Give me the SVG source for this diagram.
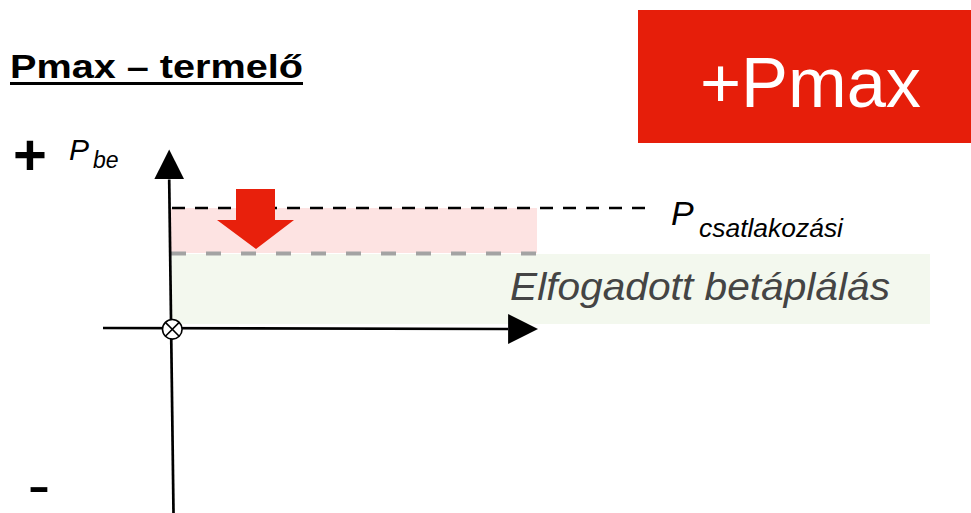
<svg xmlns="http://www.w3.org/2000/svg" width="971" height="513" viewBox="0 0 971 513">
<defs>
<style>
.t{font-family:"Liberation Sans",Arial,sans-serif}
.axis{stroke:#000;stroke-width:2.7;fill:none}
</style>
<marker id="ah" markerUnits="userSpaceOnUse" markerWidth="30" markerHeight="30" viewBox="0 0 30 30" refX="0" refY="15" orient="auto">
<path d="M0,0 L30,15 L0,30 Z" fill="#000"/>
</marker>
</defs>
<rect width="971" height="513" fill="#fff"/>
<g id="badge">
<rect x="638" y="10" width="333" height="133" fill="#e61e0a"/>
<text class="t" x="700" y="107" font-size="70" fill="#fff" textLength="221" lengthAdjust="spacingAndGlyphs">+Pmax</text>
</g>
<g id="title">
<text class="t" x="10" y="78" font-size="33" font-weight="bold" fill="#000" textLength="293" lengthAdjust="spacingAndGlyphs">Pmax – termelő</text>
<rect x="10" y="82" width="293" height="3" fill="#000"/>
</g>
<g id="zones">
<rect x="172" y="254" width="758" height="70" fill="#f3f8ee"/>
<rect x="171" y="208" width="366" height="45" fill="#fde3e2"/>
<line x1="171" y1="253.5" x2="537" y2="253.5" stroke="#a3a3a3" stroke-width="4" stroke-dasharray="15,20"/>
</g>
<g id="connectors">
<line class="axis" x1="103" y1="328" x2="508" y2="329"/>
<line x1="508" y1="329" x2="508.1" y2="329" stroke="#000" marker-end="url(#ah)"/>
<line class="axis" x1="173.5" y1="513" x2="169.2" y2="179.5"/>
<line x1="169.2" y1="179.5" x2="169.2" y2="179.4" stroke="#000" marker-end="url(#ah)"/>
<line x1="172" y1="208" x2="655" y2="208" stroke="#000" stroke-width="2.5" stroke-dasharray="13,10"/>
</g>
<g id="origin">
<circle cx="172.3" cy="329.3" r="9.8" fill="#fff" stroke="#000" stroke-width="1.6"/>
<line x1="165.4" y1="322.4" x2="179.2" y2="336.2" stroke="#000" stroke-width="1.6"/>
<line x1="179.2" y1="322.4" x2="165.4" y2="336.2" stroke="#000" stroke-width="1.6"/>
</g>
<g id="red-arrow">
<path d="M236,189 H275 V220 H294 L256,249 L217,220 H236 Z" fill="#e8200c"/>
</g>
<g id="labels">
<text class="t" x="13" y="175" font-size="58" font-weight="bold" fill="#000">+</text>
<text class="t" x="69" y="160" font-size="30" font-style="italic" fill="#000">P</text>
<text class="t" x="93" y="168" font-size="23" font-style="italic" fill="#000">be</text>
<text class="t" x="671" y="225" font-size="34" font-style="italic" fill="#000">P</text>
<text class="t" x="699" y="237" font-size="25" font-style="italic" fill="#000" textLength="144" lengthAdjust="spacingAndGlyphs">csatlakozási</text>
<text class="t" x="510" y="300" font-size="38" font-style="italic" fill="#444" textLength="380" lengthAdjust="spacingAndGlyphs">Elfogadott betáplálás</text>
<text class="t" x="28" y="500" font-size="40" font-weight="bold" fill="#000" textLength="22" lengthAdjust="spacingAndGlyphs">-</text>
</g>
</svg>
